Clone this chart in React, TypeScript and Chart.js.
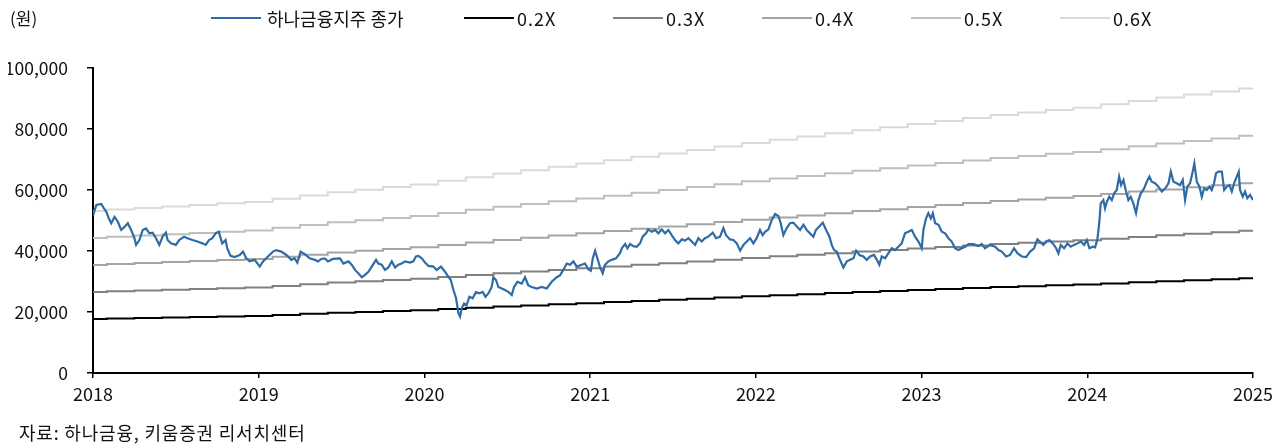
import React, { useEffect, useRef } from "react";
import { Chart, registerables } from "chart.js";

Chart.register(...registerables);

const FONT = '"Noto Sans CJK KR", "Noto Sans", sans-serif';

const UNIT_LABEL = "(원)";
const SOURCE_NOTE = "자료: 하나금융, 키움증권 리서치센터";
const PRICE_LABEL = "하나금융지주 종가";
const PRICE_COLOR = "#2f6ca6";

const PBR_MULTIPLES = [0.2, 0.3, 0.4, 0.5, 0.6];
const PBR_LABELS = ["0.2X", "0.3X", "0.4X", "0.5X", "0.6X"];
const PBR_COLORS = ["#000000", "#808080", "#a5a5a5", "#bfbfbf", "#dadada"];

const YEAR_TICKS = [2018, 2019, 2020, 2021, 2022, 2023, 2024, 2025];
const Y_TICKS = [0, 20000, 40000, 60000, 80000, 100000];

// Book value per share (won), read every two months from the band lines
const BPS_T = [
  2018.0, 2018.167, 2018.333, 2018.5, 2018.667, 2018.833,
  2019.0, 2019.167, 2019.333, 2019.5, 2019.667, 2019.833,
  2020.0, 2020.167, 2020.333, 2020.5, 2020.667, 2020.833,
  2021.0, 2021.167, 2021.333, 2021.5, 2021.667, 2021.833,
  2022.0, 2022.167, 2022.333, 2022.5, 2022.667, 2022.833,
  2023.0, 2023.167, 2023.333, 2023.5, 2023.667, 2023.833,
  2024.0, 2024.167, 2024.333, 2024.5, 2024.667, 2024.833,
  2025.0,
];
const BPS_V = [
  88500, 89300, 90200, 91000, 91800, 92700,
  93500, 95200, 97000, 98800, 100200, 101600,
  103000, 105000, 107000, 109000, 110800, 112700,
  114500, 116300, 118200, 120000, 121900, 123800,
  125700, 127500, 129200, 131000, 132700, 134300,
  136000, 137700, 139300, 141000, 142300, 143700,
  145000, 146800, 148700, 150500, 152200, 153800,
  155500,
];

// Closing price (won), time as decimal year
const PRICE_T = [
  2018.0, 2018.02, 2018.05, 2018.066, 2018.08, 2018.095, 2018.11, 2018.13, 2018.15, 2018.17,
  2018.19, 2018.21, 2018.23, 2018.25, 2018.26, 2018.28, 2018.3, 2018.32, 2018.34, 2018.36,
  2018.38, 2018.4, 2018.42, 2018.44, 2018.45, 2018.47, 2018.5, 2018.52, 2018.55, 2018.57,
  2018.6, 2018.63, 2018.66, 2018.68, 2018.7, 2018.72, 2018.74, 2018.76, 2018.77, 2018.78,
  2018.8, 2018.81, 2018.83, 2018.855, 2018.885, 2018.905, 2018.925, 2018.945, 2018.976, 2019.006,
  2019.026, 2019.056, 2019.086, 2019.106, 2019.136, 2019.167, 2019.197, 2019.217, 2019.233, 2019.253,
  2019.278, 2019.308, 2019.338, 2019.358, 2019.378, 2019.398, 2019.418, 2019.448,
  2019.491, 2019.511, 2019.541, 2019.561, 2019.581, 2019.601, 2019.622, 2019.642, 2019.662, 2019.682,
  2019.708, 2019.722, 2019.742, 2019.762, 2019.782, 2019.803, 2019.823, 2019.843, 2019.863, 2019.883,
  2019.913, 2019.933, 2019.949, 2019.963, 2019.984, 2020.004, 2020.024, 2020.054, 2020.074, 2020.1,
  2020.124, 2020.144, 2020.159, 2020.175, 2020.191, 2020.205, 2020.215, 2020.225, 2020.239, 2020.255,
  2020.271, 2020.291, 2020.311, 2020.331, 2020.352, 2020.368, 2020.386, 2020.406, 2020.416, 2020.432,
  2020.446, 2020.467, 2020.486, 2020.506, 2020.527, 2020.541, 2020.561, 2020.587, 2020.607, 2020.627,
  2020.647, 2020.678, 2020.708, 2020.738, 2020.768, 2020.798, 2020.818, 2020.838, 2020.859, 2020.879,
  2020.899, 2020.919,
  2020.949, 2020.969, 2020.989, 2021.004, 2021.016, 2021.03, 2021.044, 2021.06, 2021.076, 2021.09,
  2021.11, 2021.13, 2021.156, 2021.18, 2021.191, 2021.211, 2021.225, 2021.241, 2021.261, 2021.281,
  2021.301, 2021.317, 2021.337, 2021.351, 2021.372, 2021.392, 2021.412, 2021.432, 2021.452, 2021.472,
  2021.492, 2021.512, 2021.532, 2021.553, 2021.573, 2021.593, 2021.613, 2021.633, 2021.653, 2021.673,
  2021.693, 2021.713, 2021.74, 2021.76, 2021.784, 2021.804, 2021.82, 2021.844, 2021.864, 2021.885,
  2021.905, 2021.925, 2021.945, 2021.965, 2021.985, 2022.005, 2022.025, 2022.041, 2022.056, 2022.076,
  2022.096, 2022.116, 2022.136, 2022.15, 2022.166, 2022.186, 2022.206, 2022.226, 2022.247, 2022.267,
  2022.287, 2022.307,
  2022.347, 2022.363, 2022.383, 2022.404, 2022.424, 2022.444, 2022.458, 2022.472, 2022.488, 2022.504,
  2022.528, 2022.549, 2022.569, 2022.589, 2022.605, 2022.625, 2022.649, 2022.669, 2022.689, 2022.713,
  2022.73, 2022.745, 2022.76, 2022.78, 2022.8, 2022.82, 2022.84, 2022.86, 2022.88, 2022.9,
  2022.92, 2022.941, 2022.961, 2022.981, 2023.001, 2023.011, 2023.027, 2023.041, 2023.056, 2023.068,
  2023.082, 2023.102, 2023.122, 2023.142, 2023.162, 2023.182, 2023.202, 2023.222, 2023.243, 2023.263,
  2023.283, 2023.313, 2023.343, 2023.363, 2023.383, 2023.413, 2023.444, 2023.464, 2023.484, 2023.51,
  2023.534, 2023.558, 2023.578, 2023.605, 2023.631, 2023.655, 2023.679, 2023.699,
  2023.735, 2023.751, 2023.771, 2023.792, 2023.812, 2023.826, 2023.84, 2023.86, 2023.88, 2023.9,
  2023.92, 2023.94, 2023.961, 2023.981, 2023.997, 2024.013, 2024.033, 2024.047, 2024.061, 2024.073,
  2024.081, 2024.097, 2024.107, 2024.118, 2024.133, 2024.148, 2024.162, 2024.178, 2024.192, 2024.204,
  2024.218, 2024.234, 2024.248, 2024.262, 2024.278, 2024.294, 2024.309, 2024.323, 2024.343, 2024.359,
  2024.375, 2024.389, 2024.409, 2024.429, 2024.45, 2024.47, 2024.49, 2024.504, 2024.52, 2024.54,
  2024.56, 2024.576, 2024.59, 2024.604, 2024.62, 2024.636, 2024.646, 2024.661, 2024.677, 2024.691,
  2024.705, 2024.721, 2024.737, 2024.751, 2024.765, 2024.777, 2024.791, 2024.812, 2024.826, 2024.842,
  2024.858, 2024.872, 2024.886, 2024.902, 2024.914, 2024.922, 2024.938, 2024.952, 2024.966, 2024.982,
  2025.0,
];
const PRICE_V = [
  51600, 55100, 55400, 54000, 52900, 50700, 49100, 51200, 49600, 46900,
  47900, 49100, 46900, 44200, 42000, 43600, 46900, 47400, 45800, 46000,
  44200, 42000, 44700, 46000, 43600, 42500, 42000, 43600, 44700, 44200,
  43600, 43100, 42500, 42000, 43600, 44200, 45800, 46300, 44200, 42500,
  43600, 40900, 38400, 38000, 38700, 39800, 37600, 36600, 37100, 34900,
  36600, 38200, 39800, 40300, 39800, 38700, 37100, 37600, 36200, 39800,
  39000, 37600, 37100, 36600, 37400, 37600, 36600, 37400,
  37600, 35900, 36600, 35500, 33800, 32700, 31400, 32200, 33200, 34900,
  37100, 35900, 35500, 33800, 34600, 36600, 34600, 35500, 35900, 36600,
  36200, 36600, 38200, 38400, 37600, 36200, 35100, 34900, 33800, 34900,
  33200, 31600, 30500, 27200, 24500, 19600, 18500, 21200, 22800, 22300,
  25000, 24500, 26500, 26100, 26600, 25000, 26100, 28200, 31400, 30500,
  28200, 27700, 27200, 26600, 25600, 28200, 29900, 29300, 31400, 28700,
  28200, 27700, 28200, 27700, 29900, 31400, 32000, 33800, 35900, 35500,
  36600, 34900,
  35500, 35900, 34000, 33500, 37600, 40100, 37600, 34600, 32700, 35500,
  36600, 37100, 37600, 39300, 40900, 42300, 40900, 42300, 41600, 41400,
  42500, 44700, 45800, 47100, 46300, 46900, 45800, 47100, 45800, 46900,
  45200, 43600, 42500, 43800, 43400, 44200, 43100, 42000, 44200, 43100,
  44200, 44700, 46000, 44200, 44700, 47500, 45200, 43800, 43600, 42500,
  40100, 42000, 43100, 44200, 42500, 44200, 46900, 45200, 46300, 47100,
  50200, 52100, 51500, 49100, 45200, 47500, 49100, 49300, 48000, 46900,
  48600, 46900,
  44700, 46900, 48000, 49300, 46900, 44700, 42000, 40300, 39800, 37600,
  34600, 36600, 37100, 37600, 40100, 38700, 38200, 37100, 38200, 38700,
  37100, 35500, 38200, 37600, 39300, 40900, 40300, 41400, 42500, 45800,
  46300, 46900, 44700, 43100, 40900, 46900, 50700, 52400, 50700, 52400,
  49100, 48600, 46300, 45800, 44200, 43100, 40900, 40300, 40900, 41400,
  42300, 42300, 41600, 42300, 40900, 42000, 41400, 40300, 39800, 38200,
  38700, 40900, 39300, 38200, 38000, 39800, 40900, 43800,
  42000, 43100, 43600, 42500, 40900, 39200, 42000, 40900, 42500, 41400,
  42000, 42500, 43100, 42000, 43600, 40900, 41400, 41200, 43800, 49600,
  55600, 56700, 54000, 56100, 57800, 56700, 58900, 60000, 64400, 61600,
  63300, 59500, 56700, 57800, 55600, 52400, 56700, 58900, 60500, 62700,
  64400, 62700, 62200, 61100, 59500, 60500, 62200, 66000, 62700, 62200,
  61600, 63300, 56700, 61100, 62200, 66000, 68700, 62700, 61100, 57800,
  60500, 60000, 61100, 60000, 62200, 65500, 66000, 66000, 60000, 61100,
  61600, 59500, 62200, 64400, 66000, 60000, 57800, 59500, 57300, 58400,
  56700,
];

export default function App() {
  const canvasRef = useRef<HTMLCanvasElement | null>(null);

  useEffect(() => {
    const canvas = canvasRef.current;
    if (!canvas) return;

    const priceData = PRICE_T.map((t, i) => ({ x: t, y: PRICE_V[i] }));
    const bandSets = PBR_MULTIPLES.map((m, k) => ({
      label: PBR_LABELS[k],
      data: BPS_T.map((t, i) => ({ x: t, y: BPS_V[i] * m })),
      borderColor: PBR_COLORS[k],
      backgroundColor: PBR_COLORS[k],
      borderWidth: 2,
      pointRadius: 0,
      stepped: "middle" as const,
      fill: false,
    }));

    const chart = new Chart(canvas, {
      type: "line",
      data: {
        datasets: [
          {
            label: PRICE_LABEL,
            data: priceData,
            borderColor: PRICE_COLOR,
            backgroundColor: PRICE_COLOR,
            borderWidth: 2.2,
            pointRadius: 0,
            tension: 0,
            fill: false,
          },
          ...bandSets,
        ],
      },
      options: {
        responsive: false,
        animation: false,
        events: [],
        layout: { padding: { left: 0, top: 60, right: 25, bottom: 24 } },
        plugins: {
          legend: { display: false },
          tooltip: { enabled: false },
          title: { display: false },
        },
        scales: {
          x: {
            type: "linear",
            min: 2018,
            max: 2025,
            afterBuildTicks: (s: any) => {
              s.ticks = YEAR_TICKS.map((v) => ({ value: v }));
            },
            afterFit: (s: any) => {
              s.height = 40;
            },
            ticks: {
              font: { family: FONT, size: 18 },
              color: "#111",
              padding: 5,
              maxRotation: 0,
              autoSkip: false,
              callback: (v: any) => String(v),
            },
            grid: {
              drawOnChartArea: false,
              drawTicks: true,
              tickLength: 5,
              color: "#000",
              lineWidth: 1.5,
            },
            border: { display: true, color: "#000", width: 2 },
          },
          y: {
            type: "linear",
            min: 0,
            max: 100000,
            afterBuildTicks: (s: any) => {
              s.ticks = Y_TICKS.map((v) => ({ value: v }));
            },
            afterFit: (s: any) => {
              s.width = 85;
            },
            ticks: {
              font: { family: FONT, size: 17.5 },
              color: "#111",
              padding: 19,
              autoSkip: false,
              callback: (v: any) => Number(v).toLocaleString("en-US"),
            },
            grid: {
              drawOnChartArea: false,
              drawTicks: true,
              tickLength: 6,
              color: "#000",
              lineWidth: 1.5,
            },
            border: { display: true, color: "#000", width: 2 },
          },
        },
      },
    } as any);

    return () => chart.destroy();
  }, []);

  const legendItems = [
    { label: PRICE_LABEL, color: PRICE_COLOR, width: 253, spacing: 0, gap: 6 },
    ...PBR_LABELS.map((l, k) => ({ label: l, color: PBR_COLORS[k], width: 149, spacing: 1, gap: 3 })),
  ];

  return (
    <div
      style={{
        position: "relative",
        width: 1270,
        height: 437,
        fontFamily: FONT,
        color: "#111",
      }}
    >
      <canvas
        ref={canvasRef}
        width={1270}
        height={429}
        style={{ position: "absolute", left: 0, top: 0, width: 1270, height: 429 }}
      />
      <div
        style={{
          position: "absolute",
          left: 2,
          top: 0,
          fontSize: 17,
          lineHeight: "20px",
          whiteSpace: "nowrap",
        }}
      >
        {UNIT_LABEL}
      </div>
      <div
        style={{
          position: "absolute",
          left: 203,
          top: 0,
          height: 20,
          display: "flex",
          alignItems: "center",
        }}
      >
        {legendItems.map((it) => (
          <div
            key={it.label}
            style={{
              width: it.width,
              display: "flex",
              alignItems: "center",
              whiteSpace: "nowrap",
            }}
          >
            <div
              style={{
                width: 50,
                height: 2,
                background: it.color,
                marginRight: it.gap,
                flex: "0 0 auto",
              }}
            />
            <span style={{ fontSize: 18, lineHeight: "20px", letterSpacing: it.spacing }}>
              {it.label}
            </span>
          </div>
        ))}
      </div>
      <div
        style={{
          position: "absolute",
          left: 11,
          top: 414,
          fontSize: 18,
          lineHeight: "20px",
          letterSpacing: 0.8,
          whiteSpace: "nowrap",
        }}
      >
        {SOURCE_NOTE}
      </div>
    </div>
  );
}
